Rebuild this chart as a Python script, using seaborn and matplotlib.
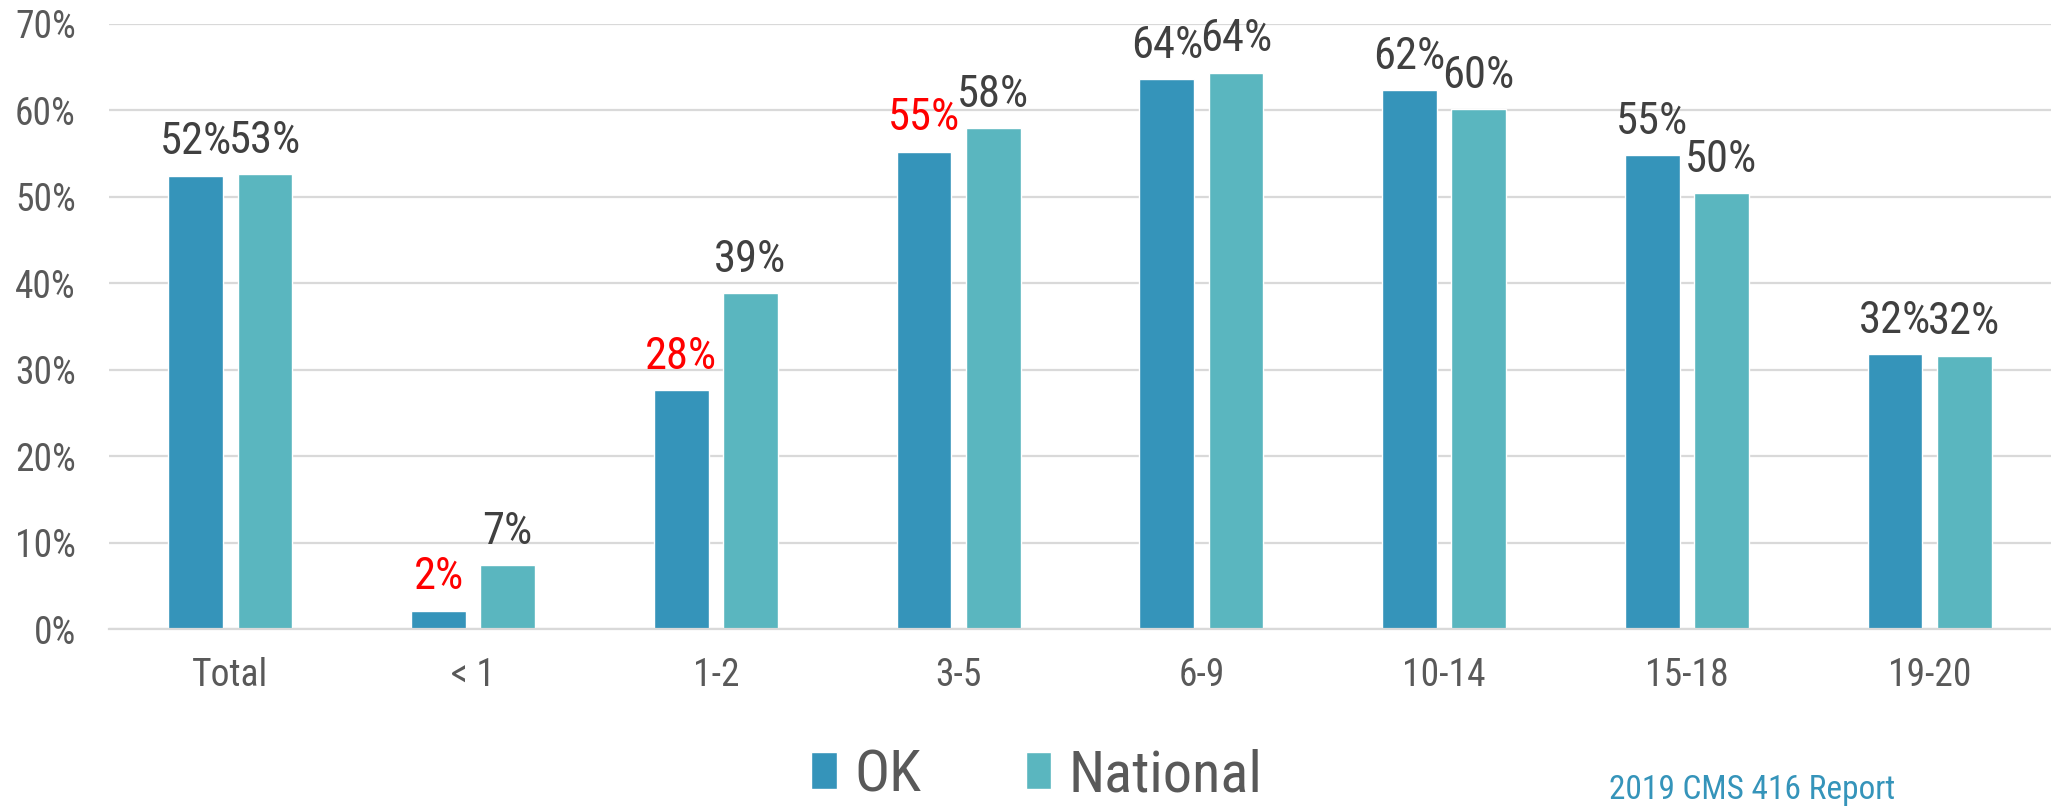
import matplotlib
matplotlib.use("Agg")
import matplotlib.pyplot as plt
from matplotlib import font_manager as fm
from matplotlib.ticker import PercentFormatter
import seaborn as sns
import pandas as pd

# ---- data ----
categories = ["Total", "< 1", "1-2", "3-5", "6-9", "10-14", "15-18", "19-20"]
ok_values = [52.4, 2.1, 27.6, 55.2, 63.6, 62.3, 54.8, 31.8]
national_values = [52.6, 7.4, 38.8, 57.9, 64.3, 60.1, 50.4, 31.6]
series_names = ["OK", "National"]
highlight_ok = ["< 1", "1-2", "3-5"]  # OK labels shown in red
y_ticks = [0, 10, 20, 30, 40, 50, 60, 70]
source_text = "2019 CMS 416 Report"

ok_color = "#3594BA"
nat_color = "#5AB6BF"
label_color = "#404040"
tick_color = "#595959"
grid_color = "#D9D9D9"

sns.set_theme(style="white")

# choose a narrow font if available
entries = fm.fontManager.ttflist
names = {f.name for f in entries}
family = "DejaVu Sans"
stretch = "normal"
if "Roboto Condensed" in names:
    family = "Roboto Condensed"
elif "Liberation Sans Narrow" in names:
    family = "Liberation Sans Narrow"
elif any(f.name == "DejaVu Sans" and f.stretch == "condensed" for f in entries):
    family = "DejaVu Sans"
    stretch = "condensed"
plt.rcParams["font.family"] = [family, "DejaVu Sans"]
plt.rcParams["font.stretch"] = stretch

df = pd.DataFrame({
    "category": categories * 2,
    "series": [series_names[0]] * len(categories) + [series_names[1]] * len(categories),
    "value": ok_values + national_values,
})

W, H = 2051, 806
fig = plt.figure(figsize=(W / 100, H / 100), dpi=100)
ax = fig.add_axes([109 / W, 177 / H, 1942 / W, 605.3 / H])

sns.barplot(data=df, x="category", y="value", hue="series",
            palette=[ok_color, nat_color], width=0.57, gap=0.21,
            saturation=1, ax=ax, order=categories, hue_order=series_names)

ax.set_ylim(0, 70)
ax.set_xlim(-0.5, len(categories) - 0.5)
ax.set_yticks(y_ticks)
ax.yaxis.set_major_formatter(PercentFormatter(100, decimals=0))
ax.set_xlabel("")
ax.set_ylabel("")
ax.yaxis.grid(True, color=grid_color, linewidth=1.6)
ax.set_axisbelow(True)
for s in ["top", "right", "left"]:
    ax.spines[s].set_visible(False)
ax.spines["bottom"].set_color(grid_color)
ax.spines["bottom"].set_linewidth(1.6)
ax.tick_params(axis="y", length=0, pad=24, labelsize=27, labelcolor=tick_color)
ax.tick_params(axis="x", length=0, pad=20, labelsize=27, labelcolor=tick_color)

# data labels
for cont, vals, name in zip(ax.containers, [ok_values, national_values], series_names):
    labels = [f"{round(v)}%" for v in vals]
    texts = ax.bar_label(cont, labels=labels, padding=9, fontsize=32, color=label_color)
    if name == "OK":
        for t, c in zip(texts, categories):
            if c in highlight_ok:
                t.set_color("#FF0000")

# legend
handles, lbls = ax.get_legend_handles_labels()
if ax.get_legend() is not None:
    ax.get_legend().remove()
fig.legend(handles, lbls, loc="center", bbox_to_anchor=(1037 / W, 1 - 776 / H),
           ncol=2, frameon=False, fontsize=42, labelcolor=tick_color,
           handlelength=0.43, handleheight=0.6, handletextpad=0.3,
           columnspacing=1.8, borderpad=0)

fig.text(1609 / W, 1 - 790 / H, source_text, color=ok_color, fontsize=24,
         ha="left", va="center")

fig.savefig("out.png", dpi=100)
